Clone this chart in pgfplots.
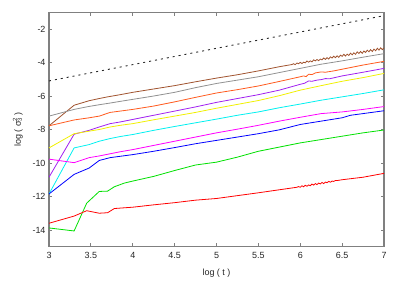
\documentclass[border=0pt]{standalone}
\usepackage{pgfplots}
\pgfplotsset{compat=1.18}
\usepackage{fontspec}
\setmainfont{Liberation Sans}
\definecolor{cbrown}{HTML}{A0522D}
\definecolor{cgrey}{HTML}{909090}
\definecolor{corange}{HTML}{FF5A1E}
\definecolor{cpurple}{HTML}{A020F0}
\definecolor{cyellow}{HTML}{F0F000}
\definecolor{ccyan}{HTML}{00F0F0}
\definecolor{cmagenta}{HTML}{FF00FF}
\definecolor{cblue}{HTML}{0000FF}
\definecolor{cgreen}{HTML}{00E000}
\definecolor{cred}{HTML}{FF0000}
\definecolor{cframe}{HTML}{808080}
\begin{document}
\begin{tikzpicture}
\begin{axis}[
  scale only axis,
  width=335bp, height=234.4bp,
  xmin=3, xmax=7, ymin=-15, ymax=-1,
  axis line style={draw=cframe, line width=1.1bp},
  tick style={draw=cframe, line width=0.8bp},
  tick align=inside,
  major tick length=3.5bp,
  xtick={3,3.5,4,4.5,5,5.5,6,6.5,7},
  xticklabels={3,3.5,4,4.5,5,5.5,6,6.5,7},
  ytick={-14,-12,-10,-8,-6,-4,-2},
  yticklabels={{-14},{-12},{-10},{-8},{-6},{-4},{-2}},
  tick label style={font=\fontsize{9}{10}\selectfont, text=black!85},
  xticklabel style={yshift=-2bp},
  label style={font=\fontsize{9}{10}\selectfont, text=black!85},
  xlabel={log ( t )},
  xlabel style={yshift=-4bp},
  ylabel={log ( σ\makebox[0pt][l]{\textsuperscript{2}}\textsubscript{3} )},
  ylabel style={yshift=3bp},
  every axis plot/.append style={line width=0.8bp, mark=none},
  clip=true,
]
\addplot[black!85, line width=0.9bp, dash pattern=on 2bp off 4bp] coordinates {(3,-5.1) (7,-1.2)};
% brown
\addplot[cbrown] coordinates {(3,-7.78) (3.3,-6.55) (3.48,-6.28) (3.6,-6.15) (3.7,-6.05) (3.85,-5.92) (4,-5.78) (4.25,-5.58) (4.5,-5.38) (4.75,-5.15) (5,-4.93) (5.25,-4.73) (5.5,-4.5) (5.75,-4.25) (5.9,-4.12)
 (5.92,-4.07) (5.94,-4.13) (5.96,-4.03) (5.98,-4.07) (6.00,-3.99) (6.02,-4.06) (6.04,-3.98) (6.06,-4.02) (6.08,-3.91) (6.10,-3.98) (6.12,-3.90) (6.14,-3.96) (6.16,-3.84) (6.18,-3.90) (6.20,-3.82) (6.22,-3.89) (6.24,-3.79) (6.26,-3.84) (6.28,-3.73) (6.30,-3.81) (6.32,-3.71) (6.34,-3.79) (6.36,-3.66) (6.38,-3.73) (6.40,-3.62) (6.42,-3.71) (6.44,-3.60) (6.46,-3.69) (6.48,-3.56) (6.50,-3.63) (6.52,-3.51) (6.54,-3.61) (6.56,-3.50) (6.58,-3.58) (6.60,-3.44) (6.62,-3.54) (6.64,-3.42) (6.66,-3.51) (6.68,-3.36) (6.70,-3.46) (6.72,-3.34) (6.74,-3.45) (6.76,-3.31) (6.78,-3.40) (6.80,-3.26) (6.82,-3.36) (6.84,-3.23) (6.86,-3.34) (6.88,-3.20) (6.90,-3.30) (6.92,-3.15) (6.94,-3.26) (6.96,-3.12) (6.98,-3.23) (7.00,-3.12)};
% grey
\addplot[cgrey] coordinates {(3,-7.2) (3.3,-6.8) (3.48,-6.62) (3.6,-6.52) (3.73,-6.42) (3.85,-6.32) (4,-6.2) (4.25,-6.0) (4.5,-5.78) (4.75,-5.5) (5,-5.25) (5.25,-5.05) (5.5,-4.85) (5.75,-4.6) (6,-4.35) (6.25,-4.1) (6.5,-3.9) (6.75,-3.68) (7,-3.47)};
% orange
\addplot[corange] coordinates {(3,-7.78) (3.3,-7.43) (3.48,-7.3) (3.6,-7.2) (3.73,-6.98) (3.85,-6.9) (4,-6.8) (4.25,-6.6) (4.5,-6.35) (4.75,-6.08) (5,-5.82) (5.25,-5.62) (5.5,-5.4) (5.75,-5.13) (6,-4.85) (6.04,-4.80) (6.07,-4.84) (6.1,-4.7) (6.14,-4.72) (6.18,-4.62) (6.25,-4.56) (6.3,-4.58) (6.4,-4.5) (6.5,-4.4) (6.75,-4.15) (7,-3.93)};
% purple
\addplot[cpurple] coordinates {(3,-10.85) (3.3,-8.28) (3.48,-8.05) (3.6,-7.85) (3.73,-7.65) (3.85,-7.55) (4,-7.4) (4.25,-7.15) (4.5,-6.9) (4.75,-6.65) (5,-6.38) (5.25,-6.15) (5.5,-5.92) (5.75,-5.65) (6,-5.3) (6.05,-5.24) (6.1,-5.1) (6.14,-5.12) (6.2,-5.05) (6.25,-5.02) (6.3,-4.96) (6.35,-4.97) (6.5,-4.8) (6.75,-4.58) (7,-4.35)};
% yellow
\addplot[cyellow] coordinates {(3,-9.1) (3.3,-8.25) (3.48,-8.1) (3.6,-8.0) (3.73,-7.85) (3.85,-7.75) (4,-7.65) (4.25,-7.42) (4.5,-7.2) (4.75,-6.98) (5,-6.73) (5.25,-6.5) (5.5,-6.27) (5.75,-5.98) (6,-5.65) (6.25,-5.38) (6.5,-5.12) (6.75,-4.9) (7,-4.65)};
% cyan
\addplot[ccyan] coordinates {(3,-11.85) (3.3,-9.1) (3.48,-8.9) (3.6,-8.7) (3.73,-8.54) (3.85,-8.42) (4,-8.3) (4.25,-8.05) (4.5,-7.82) (4.75,-7.6) (5,-7.38) (5.25,-7.15) (5.5,-6.95) (5.75,-6.7) (6,-6.48) (6.25,-6.25) (6.5,-6.05) (6.75,-5.85) (7,-5.63)};
% magenta
\addplot[cmagenta] coordinates {(3,-9.77) (3.3,-9.98) (3.48,-9.68) (3.6,-9.58) (3.73,-9.45) (3.85,-9.33) (4,-9.2) (4.25,-8.95) (4.5,-8.7) (4.75,-8.45) (5,-8.2) (5.25,-7.98) (5.5,-7.75) (5.75,-7.5) (6,-7.27) (6.25,-7.05) (6.5,-6.95) (6.75,-6.8) (7,-6.63)};
% blue
\addplot[cblue] coordinates {(3,-11.85) (3.3,-10.68) (3.48,-10.3) (3.6,-9.85) (3.73,-9.68) (3.85,-9.6) (4,-9.5) (4.25,-9.3) (4.5,-9.08) (4.75,-8.85) (5,-8.65) (5.25,-8.45) (5.5,-8.25) (5.75,-8.02) (6,-7.7) (6.25,-7.5) (6.5,-7.3) (6.6,-7.15) (6.75,-7.05) (7,-6.88)};
% green
\addplot[cgreen] coordinates {(3,-13.88) (3.3,-14.06) (3.45,-12.4) (3.6,-11.7) (3.7,-11.68) (3.78,-11.42) (3.9,-11.2) (4,-11.08) (4.25,-10.8) (4.5,-10.45) (4.75,-10.12) (5,-9.95) (5.25,-9.65) (5.5,-9.3) (5.75,-9.05) (6,-8.8) (6.25,-8.6) (6.5,-8.4) (6.75,-8.2) (7,-8.03)};
% red
\addplot[cred] coordinates {(3,-13.6) (3.3,-13.17) (3.45,-12.85) (3.6,-13.0) (3.7,-12.97) (3.78,-12.72) (4,-12.64) (4.25,-12.5) (4.5,-12.37) (4.75,-12.22) (5,-12.12) (5.25,-11.95) (5.5,-11.78) (5.75,-11.6) (5.96,-11.45)
 (5.98,-11.41) (6.00,-11.45) (6.02,-11.36) (6.04,-11.42) (6.06,-11.33) (6.08,-11.39) (6.10,-11.31) (6.12,-11.36) (6.14,-11.26) (6.16,-11.32) (6.18,-11.23) (6.20,-11.29) (6.22,-11.20) (6.24,-11.25) (6.26,-11.16) (6.28,-11.23) (6.30,-11.14) (6.32,-11.18) (6.34,-11.10) (6.36,-11.15) (6.38,-11.08) (6.40,-11.10) (6.42,-11.05) (6.44,-11.05) (6.5,-11.0) (6.75,-10.85) (7,-10.62)};
\end{axis}
\path[use as bounding box] ([shift={(-49bp,-32.3bp)}]current axis.south west) rectangle ([shift={(15bp,12.3bp)}]current axis.north east);
\end{tikzpicture}
\end{document}
